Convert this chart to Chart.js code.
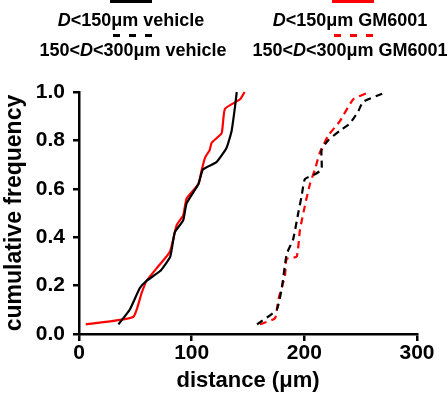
<!DOCTYPE html>
<html>
<head>
<meta charset="utf-8">
<script src="https://cdn.jsdelivr.net/npm/chart.js@4"></script>
<style>
  body { margin: 0; background: #fff; }
  #wrap { position: relative; width: 448px; height: 396px; font-family: "Liberation Sans", Arial, sans-serif; }
  canvas { position: absolute; left: 0; top: 0; }
  .lg { position: absolute; font-weight: bold; font-size: 18px; line-height: 20px; color: #000; white-space: nowrap; transform: translateX(-50%); }
  .sw { position: absolute; height: 3px; }
</style>
</head>
<body>
<div id="wrap">
  <canvas id="c" width="448" height="396"></canvas>
  <div class="sw" style="left:110px;top:0px;width:42px;background:#000"></div>
  <div class="lg" style="left:131px;top:10px"><i>D</i>&lt;150μm vehicle</div>
  <div class="sw" style="left:113px;top:34px;width:40px;background:repeating-linear-gradient(90deg,#000 0 7px,transparent 7px 16px)"></div>
  <div class="lg" style="left:133px;top:40px">150&lt;<i>D</i>&lt;300μm vehicle</div>
  <div class="sw" style="left:332px;top:0px;width:42px;background:#f00"></div>
  <div class="lg" style="left:350px;top:10px"><i>D</i>&lt;150μm GM6001</div>
  <div class="sw" style="left:334px;top:34px;width:40px;background:repeating-linear-gradient(90deg,#f00 0 7px,transparent 7px 16px)"></div>
  <div class="lg" style="left:350px;top:40px">150&lt;<i>D</i>&lt;300μm GM6001</div>
</div>
<script>
// D<150 vehicle
let vehSmallX = [35, 45, 54, 60, 72, 81, 85, 92.5, 95.5, 106, 110, 122, 131, 135.5, 138.5, 140];
let vehSmallY = [0.04, 0.10, 0.19, 0.22, 0.26, 0.32, 0.42, 0.47, 0.54, 0.62, 0.68, 0.71, 0.77, 0.84, 0.94, 1.0];
// D<150 GM6001
let gmSmallX = [6, 48, 55.6, 60, 70.4, 80.7, 86.7, 92.5, 95.5, 106, 109, 112, 116, 117.7, 126.6, 129.5, 143, 147];
let gmSmallY = [0.04, 0.07, 0.17, 0.22, 0.28, 0.34, 0.45, 0.49, 0.56, 0.62, 0.68, 0.73, 0.76, 0.79, 0.83, 0.93, 0.97, 1.0];
// 150<D<300 vehicle
let vehBigX = [158, 175.4, 180, 184.3, 190, 194.6, 197.6, 200.5, 209.4, 215.3, 215.3, 221, 231.6, 240.4, 247.8, 252.3, 273];
let vehBigY = [0.04, 0.10, 0.19, 0.33, 0.39, 0.50, 0.57, 0.64, 0.66, 0.68, 0.76, 0.80, 0.84, 0.87, 0.92, 0.96, 1.0];
// 150<D<300 GM6001
let gmBigX = [160.6, 174, 176.8, 182.8, 184.3, 193.2, 196.1, 200.5, 205, 209.4, 213.8, 221.2, 231.6, 243.4, 255.3, 258];
let gmBigY = [0.04, 0.065, 0.14, 0.24, 0.31, 0.32, 0.43, 0.53, 0.62, 0.68, 0.75, 0.82, 0.88, 0.97, 0.995, 1.0];

let xTicks = [0, 100, 200, 300];

function pts(xs, ys) {
  return xs.map((x, i) => ({ x: x, y: ys[i] }));
}

function series(label, xs, ys, color, dash) {
  return {
    label: label,
    data: pts(xs, ys),
    borderColor: color,
    borderWidth: 2.2,
    borderDash: dash,
    pointRadius: 0,
    tension: 0.15,
    fill: false,
    clip: false
  };
}

let tickFont = { family: "Liberation Sans", weight: "bold", size: 21 };
let titleFont = { family: "Liberation Sans", weight: "bold", size: 22 };

new Chart("c", {
  type: "line",
  data: {
    datasets: [
      series("D<150μm vehicle", vehSmallX, vehSmallY, "#000", []),
      series("D<150μm GM6001", gmSmallX, gmSmallY, "#f00", []),
      series("150<D<300μm vehicle", vehBigX, vehBigY, "#000", [7, 5]),
      series("150<D<300μm GM6001", gmBigX, gmBigY, "#f00", [7, 5])
    ]
  },
  options: {
    responsive: false,
    animation: false,
    layout: { padding: { top: 92, right: 31, left: 0, bottom: 0 } },
    plugins: { legend: { display: false }, tooltip: { enabled: false } },
    scales: {
      x: {
        type: "linear",
        min: 0, max: 300,
        afterBuildTicks: s => { s.ticks = xTicks.map(v => ({ value: v })); },
        afterFit: s => { s.height = 62; },
        border: { color: "#000", width: 2.5 },
        grid: { drawOnChartArea: false, color: "#000", lineWidth: 2.5, tickLength: 7 },
        ticks: { color: "#000", font: tickFont, padding: 0, maxRotation: 0 },
        title: { display: true, text: "distance (μm)", color: "#000", font: titleFont, padding: { top: 0, bottom: 2 } }
      },
      y: {
        min: 0, max: 1,
        afterFit: s => { s.width = 79; },
        border: { color: "#000", width: 2.5 },
        grid: { drawOnChartArea: false, color: "#000", lineWidth: 2.5, tickLength: 6 },
        ticks: { stepSize: 0.2, color: "#000", font: tickFont, padding: 8,
          callback: v => v.toFixed(1) },
        title: { display: true, text: "cumulative frequency", color: "#000", font: { family: "Liberation Sans", weight: "bold", size: 23 }, padding: { top: 1, bottom: 0 } }
      }
    }
  }
});
</script>
</body>
</html>
